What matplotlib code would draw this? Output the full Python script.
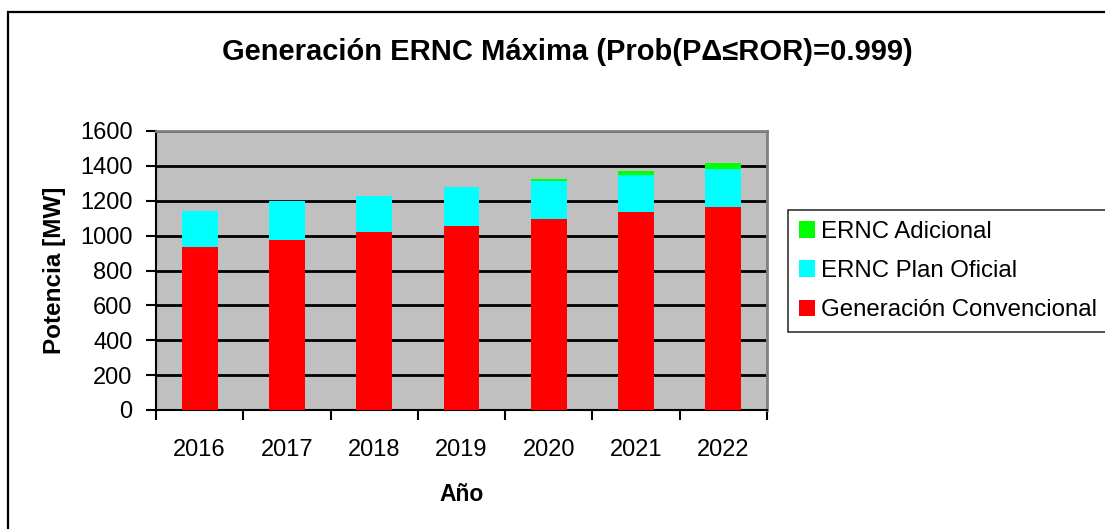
import matplotlib
matplotlib.use("Agg")
import matplotlib.pyplot as plt
from matplotlib.patches import Rectangle
import numpy as np

plt.rcParams['font.family'] = ['Liberation Sans', 'DejaVu Sans']

anios = ["2016", "2017", "2018", "2019", "2020", "2021", "2022"]
convencional = [937, 974, 1022, 1054, 1098, 1133, 1167]
plan_oficial = [203, 224, 208, 224, 213, 214, 215]
adicional = [0, 0, 0, 0, 12, 22, 33]

W, H = 1105, 529
fig = plt.figure(figsize=(W / 100, H / 100), dpi=100)

# marco exterior (cortado a la derecha y abajo)
fig.patches.append(Rectangle((8 / W, -0.5), 1.2, 1.5 - 12 / H, transform=fig.transFigure,
                             fill=False, edgecolor="black", linewidth=1.6))

ax = fig.add_axes([156 / W, 1 - 410 / H, (767 - 156) / W, (410 - 131) / H])
ax.set_facecolor("#C0C0C0")

x = np.arange(len(anios))
ancho = 0.41
b1 = np.array(convencional)
b2 = b1 + np.array(plan_oficial)
ax.bar(x, convencional, ancho, color="#FF0000", label="Generación Convencional", zorder=3)
ax.bar(x, plan_oficial, ancho, bottom=b1, color="#00FFFF", label="ERNC Plan Oficial", zorder=3)
ax.bar(x, adicional, ancho, bottom=b2, color="#00FF00", label="ERNC Adicional", zorder=3)

ax.set_xlim(-0.5, len(anios) - 0.5)
ax.set_ylim(0, 1600)
ax.set_yticks(range(0, 1601, 200))
ax.yaxis.grid(True, color="black", linewidth=2, zorder=1)
ax.set_axisbelow(True)

ax.set_xticks(x)
ax.set_xticklabels(anios)
ax.set_xticks(np.arange(-0.5, len(anios), 1), minor=True)
ax.tick_params(axis="x", which="major", length=0, pad=21, labelsize=17)
ax.tick_params(axis="x", which="minor", length=7, width=1.5, direction="out")
ax.tick_params(axis="y", length=7, width=1.5, direction="out", labelsize=17, pad=10)

for s in ["top", "right"]:
    ax.spines[s].set_color("#808080")
    ax.spines[s].set_linewidth(2)
for s in ["left", "bottom"]:
    ax.spines[s].set_color("black")
    ax.spines[s].set_linewidth(1.5)

ax.set_xlabel("Año", fontsize=16.5, fontweight="bold", labelpad=16)
ax.set_ylabel("Potencia [MW]", fontsize=17.5, fontweight="bold", labelpad=10)

fig.text(567 / W, 1 - 52 / H, "Generación ERNC Máxima (Prob(PΔ≤ROR)=0.999)",
         ha="center", va="center", fontsize=21, fontweight="bold")

h, l = ax.get_legend_handles_labels()
leg = fig.legend(h[::-1], l[::-1], loc="upper left", bbox_to_anchor=(788 / W, 1 - 210 / H),
                 fontsize=17.3, frameon=True, fancybox=False, edgecolor="black",
                 handlelength=0.68, handleheight=0.68, handletextpad=0.25,
                 labelspacing=0.72, borderpad=0.45, borderaxespad=0)
leg.get_frame().set_linewidth(1.2)

fig.savefig("out.png", dpi=100)
